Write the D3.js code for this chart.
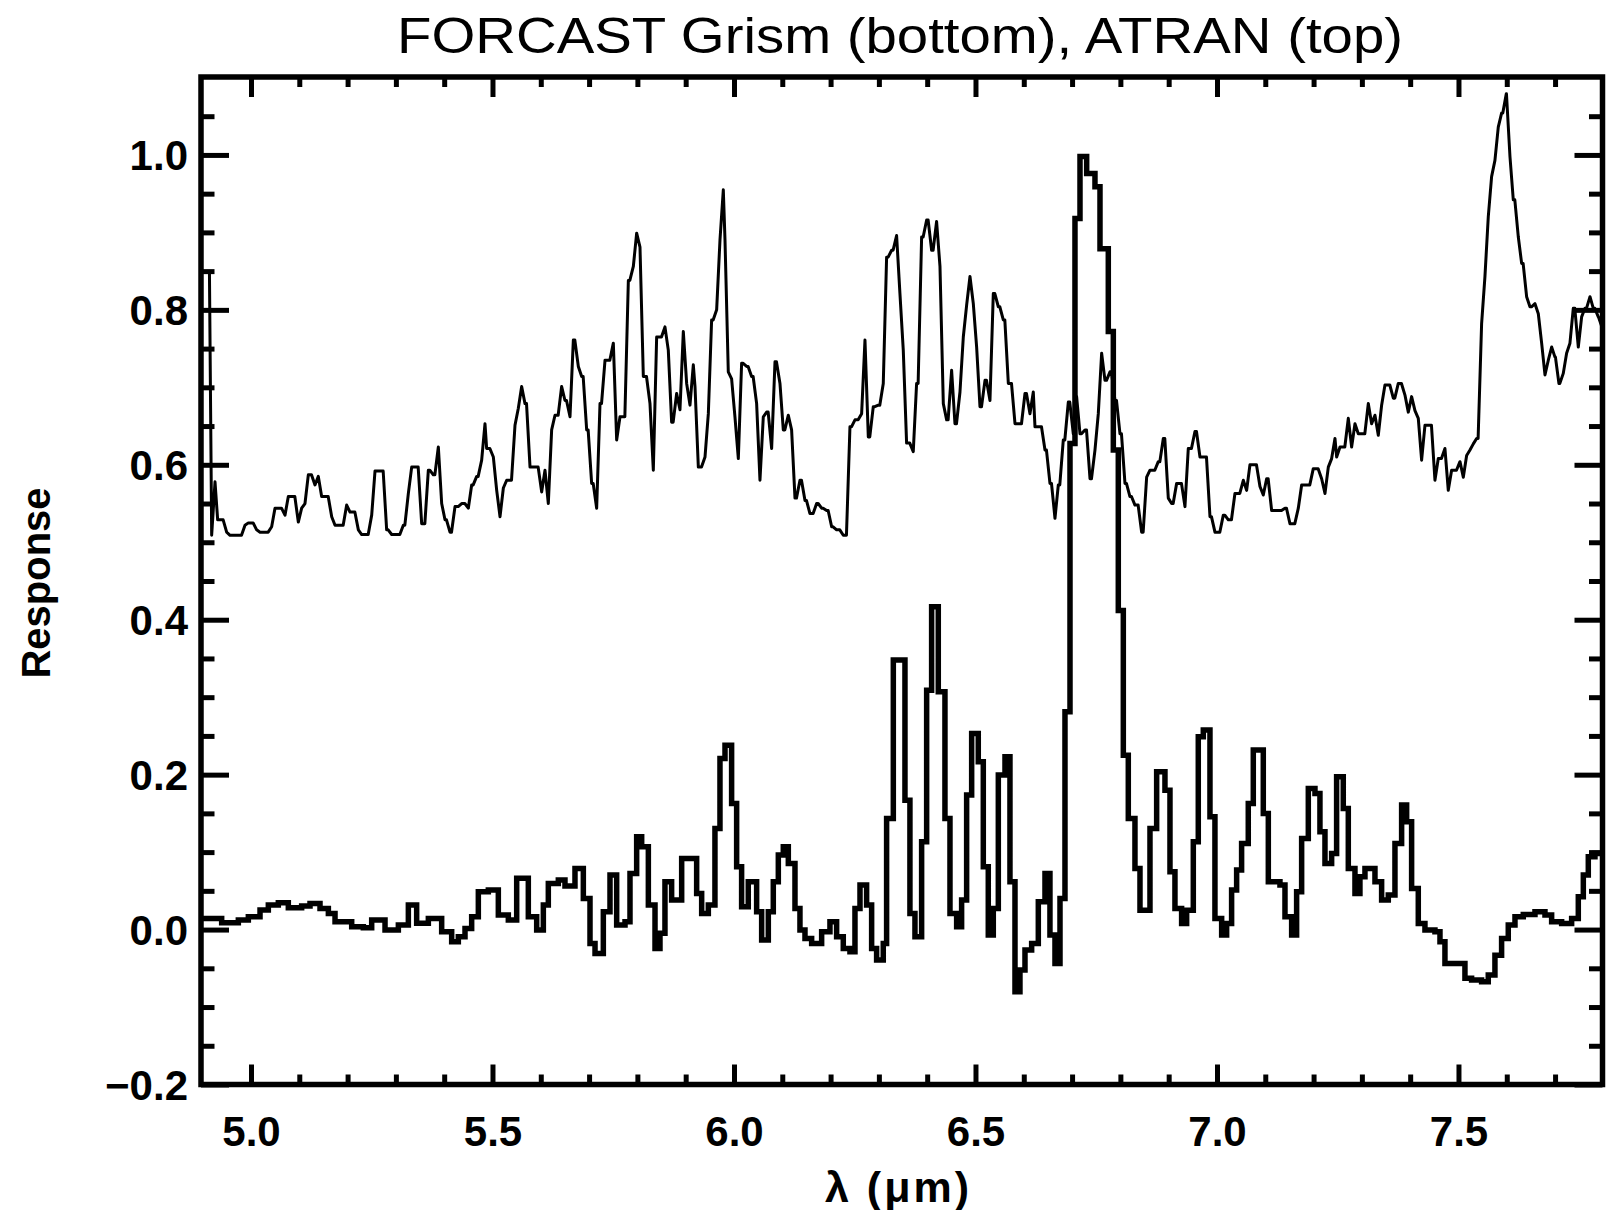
<!DOCTYPE html>
<html>
<head>
<meta charset="utf-8">
<script src="https://cdn.jsdelivr.net/npm/d3@7"></script>
<style>
body { margin: 0; background: #fff; }
svg text { font-family: "Liberation Sans", Arial, sans-serif; fill: #000; }
</style>
</head>
<body>
<div id="chart"></div>
<script>
// axis ranges and tick labels
const xDomain = [4.8965, 7.7982];
const yDomain = [-0.2, 1.1006];
const xMajorTicks = [5.0, 5.5, 6.0, 6.5, 7.0, 7.5];
const yMajorTicks = [-0.2, 0.0, 0.2, 0.4, 0.6, 0.8, 1.0];

// FORCAST grism response (bottom), step histogram: [wavelength, response]
const grismPoints = [
    [4.8979, 0.0144], [4.9393, 0.0088], [4.9738, 0.0123], [4.9945, 0.0166], [5.0187, 0.0252], [5.0359, 0.0316],
    [5.0566, 0.0346], [5.0773, 0.0282], [5.1049, 0.0303], [5.1222, 0.0338], [5.1429, 0.0273], [5.1602, 0.0209],
    [5.1740, 0.0101], [5.2085, 0.0037], [5.2326, 0.0024], [5.2499, 0.0123], [5.2775, -0.0006], [5.3051, 0.0058],
    [5.3258, 0.0316], [5.3430, 0.0080], [5.3672, 0.0144], [5.3948, -0.0028], [5.4155, -0.0157], [5.4293, -0.0092],
    [5.4431, 0.0015], [5.4569, 0.0166], [5.4707, 0.0488], [5.4914, 0.0510], [5.5121, 0.0187], [5.5328, 0.0123],
    [5.5501, 0.0661], [5.5742, 0.0166], [5.5915, -0.0006], [5.6053, 0.0316], [5.6156, 0.0596], [5.6363, 0.0639],
    [5.6501, 0.0562], [5.6708, 0.0790], [5.6881, 0.0402], [5.7019, -0.0179], [5.7123, -0.0308], [5.7295, 0.0230],
    [5.7433, 0.0704], [5.7571, 0.0058], [5.7744, 0.0101], [5.7847, 0.0725], [5.7985, 0.1198], [5.8089, 0.1069],
    [5.8227, 0.0316], [5.8365, -0.0243], [5.8468, -0.0049], [5.8571, 0.0617], [5.8709, 0.0381], [5.8917, 0.0918],
    [5.9227, 0.0467], [5.9331, 0.0208], [5.9469, 0.0316], [5.9606, 0.1306], [5.9710, 0.2209], [5.9814, 0.2381],
    [5.9951, 0.1628], [6.0055, 0.0811], [6.0158, 0.0295], [6.0296, 0.0617], [6.0469, 0.0230], [6.0573, -0.0136],
    [6.0711, 0.0230], [6.0814, 0.0617], [6.0918, 0.0962], [6.1021, 0.1069], [6.1125, 0.0854], [6.1263, 0.0273],
    [6.1366, -0.0007], [6.1470, -0.0114], [6.1608, -0.0179], [6.1815, -0.0028], [6.1987, 0.0101], [6.2125, -0.0093],
    [6.2263, -0.0243], [6.2401, -0.0286], [6.2505, 0.0273], [6.2609, 0.0574], [6.2746, 0.0316], [6.2850, -0.0243],
    [6.2953, -0.0394], [6.3091, -0.0179], [6.3160, 0.1435], [6.3299, 0.3479], [6.3540, 0.1671], [6.3643, 0.0208],
    [6.3747, -0.0093], [6.3885, 0.1134], [6.3989, 0.3091], [6.4092, 0.4167], [6.4230, 0.3070], [6.4368, 0.1435],
    [6.4472, 0.0208], [6.4610, 0.0036], [6.4713, 0.0381], [6.4817, 0.1736], [6.4921, 0.2532], [6.5058, 0.2166],
    [6.5162, 0.0811], [6.5265, -0.0071], [6.5369, 0.0273], [6.5473, 0.1994], [6.5611, 0.2231], [6.5714, 0.0617],
    [6.5818, -0.0803], [6.5921, -0.0523], [6.6025, -0.0265], [6.6163, -0.0179], [6.6301, 0.0359], [6.6439, 0.0725],
    [6.6542, -0.0071], [6.6646, -0.0437], [6.6750, 0.0402], [6.6853, 0.2812], [6.6957, 0.6275], [6.7060, 0.918],
    [6.7164, 0.998], [6.7302, 0.976], [6.7474, 0.959], [6.7578, 0.879], [6.7750, 0.772], [6.7854, 0.619],
    [6.7957, 0.412], [6.8061, 0.225], [6.8164, 0.1435], [6.8302, 0.079], [6.8406, 0.025], [6.8613, 0.1306],
    [6.8751, 0.2037], [6.8923, 0.1800], [6.9027, 0.0746], [6.9130, 0.0273], [6.9268, 0.0079], [6.9372, 0.0251],
    [6.9510, 0.1134], [6.9613, 0.2489], [6.9717, 0.2575], [6.9855, 0.1456], [6.9958, 0.0144], [7.0097, -0.0071],
    [7.0200, 0.0079], [7.0303, 0.0510], [7.0407, 0.0768], [7.0510, 0.1112], [7.0648, 0.1628], [7.0752, 0.2317],
    [7.0959, 0.1499], [7.1063, 0.0617], [7.1304, 0.0574], [7.1408, 0.0165], [7.1546, -0.0071], [7.1649, 0.0488],
    [7.1753, 0.1177], [7.1891, 0.1822], [7.2029, 0.1757], [7.2132, 0.1263], [7.2236, 0.0854], [7.2374, 0.0983],
    [7.2477, 0.1973], [7.2615, 0.1564], [7.2719, 0.0789], [7.2857, 0.0467], [7.2960, 0.0682], [7.3064, 0.0789],
    [7.3271, 0.0617], [7.3409, 0.0381], [7.3547, 0.0445], [7.3685, 0.1112], [7.3823, 0.1607], [7.3927, 0.1392],
    [7.4030, 0.0531], [7.4168, 0.0079], [7.4306, -0.0007], [7.4513, -0.0028], [7.4617, -0.0157], [7.4720, -0.0437],
    [7.5134, -0.0630], [7.5272, -0.0652], [7.5479, -0.0674], [7.5617, -0.0587], [7.5755, -0.0330], [7.5893, -0.0114],
    [7.6031, 0.0058], [7.6170, 0.0165], [7.6342, 0.0195], [7.6584, 0.0230], [7.6791, 0.0187], [7.6929, 0.0101],
    [7.7136, 0.0079], [7.7343, 0.0144], [7.7481, 0.0424], [7.7585, 0.0703], [7.7688, 0.0940], [7.7826, 0.0983],
    [7.7982, 0.0983]
];

// ATRAN atmospheric transmission (top): [wavelength, transmission]
const atranPoints = [
    [4.914, 0.847], [4.9186, 0.509], [4.9255, 0.578], [4.9310, 0.529], [4.9496, 0.513], [4.9566, 0.509],
    [4.9876, 0.522], [4.9945, 0.525], [5.0117, 0.516], [5.0187, 0.513], [5.0428, 0.520], [5.0497, 0.544],
    [5.0704, 0.535], [5.0773, 0.559], [5.0980, 0.526], [5.1049, 0.544], [5.1118, 0.550], [5.1187, 0.587],
    [5.1325, 0.574], [5.1394, 0.585], [5.1463, 0.559], [5.1671, 0.533], [5.1740, 0.522], [5.1981, 0.548],
    [5.2050, 0.539], [5.2223, 0.516], [5.2292, 0.510], [5.2499, 0.535], [5.2568, 0.592], [5.2809, 0.516],
    [5.2913, 0.510], [5.3154, 0.522], [5.3258, 0.563], [5.3327, 0.597], [5.3534, 0.524], [5.3672, 0.593],
    [5.3775, 0.587], [5.3879, 0.623], [5.3948, 0.550], [5.4017, 0.529], [5.4120, 0.513], [5.4224, 0.546],
    [5.4362, 0.550], [5.4500, 0.544], [5.4569, 0.574], [5.4673, 0.585], [5.4776, 0.606], [5.4845, 0.653],
    [5.4879, 0.621], [5.5018, 0.610], [5.5087, 0.567], [5.5156, 0.533], [5.5225, 0.570], [5.5294, 0.580],
    [5.5466, 0.651], [5.5535, 0.673], [5.5604, 0.701], [5.5673, 0.679], [5.5777, 0.597], [5.6018, 0.565],
    [5.6087, 0.593], [5.6156, 0.550], [5.6225, 0.645], [5.6294, 0.664], [5.6432, 0.701], [5.6501, 0.683],
    [5.6605, 0.662], [5.6674, 0.761], [5.6777, 0.727], [5.6847, 0.714], [5.6950, 0.645], [5.7053, 0.576],
    [5.7157, 0.544], [5.7226, 0.679], [5.7330, 0.735], [5.7502, 0.757], [5.7571, 0.632], [5.7640, 0.662],
    [5.7813, 0.838], [5.7916, 0.856], [5.7985, 0.899], [5.8054, 0.881], [5.8123, 0.714], [5.8261, 0.679],
    [5.8330, 0.593], [5.8399, 0.765], [5.8571, 0.778], [5.8640, 0.748], [5.8709, 0.655], [5.8813, 0.692],
    [5.8882, 0.671], [5.8951, 0.772], [5.9020, 0.705], [5.9089, 0.677], [5.9158, 0.729], [5.9193, 0.701],
    [5.9262, 0.597], [5.9400, 0.610], [5.9469, 0.666], [5.9537, 0.787], [5.9641, 0.800], [5.9710, 0.890],
    [5.9779, 0.955], [5.9814, 0.890], [5.9882, 0.720], [5.9951, 0.711], [6.0020, 0.662], [6.0090, 0.608],
    [6.0158, 0.731], [6.0262, 0.727], [6.0365, 0.714], [6.0469, 0.679], [6.0538, 0.580], [6.0607, 0.662],
    [6.0676, 0.668], [6.0780, 0.621], [6.0849, 0.733], [6.0952, 0.705], [6.1021, 0.645], [6.1125, 0.664],
    [6.1193, 0.645], [6.1263, 0.557], [6.1366, 0.580], [6.1470, 0.554], [6.1573, 0.537], [6.1711, 0.550],
    [6.1815, 0.544], [6.1918, 0.541], [6.2022, 0.520], [6.2125, 0.516], [6.2263, 0.509], [6.2401, 0.649],
    [6.2505, 0.658], [6.2643, 0.666], [6.2712, 0.761], [6.2781, 0.636], [6.2884, 0.675], [6.2988, 0.677],
    [6.3091, 0.705], [6.3160, 0.868], [6.3264, 0.877], [6.3367, 0.896], [6.3436, 0.821], [6.3505, 0.748],
    [6.3574, 0.628], [6.3712, 0.617], [6.3781, 0.705], [6.3885, 0.894], [6.3989, 0.916], [6.4092, 0.877],
    [6.4195, 0.914], [6.4265, 0.856], [6.4334, 0.679], [6.4403, 0.658], [6.4506, 0.722], [6.4575, 0.653],
    [6.4679, 0.694], [6.4748, 0.765], [6.4817, 0.806], [6.4886, 0.843], [6.4955, 0.808], [6.5024, 0.752],
    [6.5093, 0.675], [6.5197, 0.709], [6.5300, 0.683], [6.5369, 0.821], [6.5473, 0.804], [6.5576, 0.787],
    [6.5680, 0.705], [6.5818, 0.653], [6.6025, 0.692], [6.6128, 0.666], [6.6197, 0.694], [6.6232, 0.649],
    [6.6439, 0.619], [6.6542, 0.576], [6.6646, 0.531], [6.6715, 0.574], [6.6818, 0.632], [6.6922, 0.681],
    [6.7025, 0.640], [6.7094, 0.688], [6.7164, 0.640], [6.7267, 0.645], [6.7371, 0.582], [6.7474, 0.619],
    [6.7543, 0.666], [6.7612, 0.744], [6.7681, 0.709], [6.7785, 0.720], [6.7888, 0.683], [6.7992, 0.640],
    [6.8095, 0.576], [6.8198, 0.559], [6.8302, 0.548], [6.8440, 0.513], [6.8544, 0.584], [6.8613, 0.593],
    [6.8785, 0.604], [6.8889, 0.634], [6.8992, 0.557], [6.9061, 0.550], [6.9165, 0.576], [6.9337, 0.546],
    [6.9406, 0.621], [6.9544, 0.643], [6.9648, 0.610], [6.9855, 0.533], [6.9958, 0.513], [7.0131, 0.535],
    [7.0235, 0.529], [7.0372, 0.563], [7.0545, 0.580], [7.0614, 0.567], [7.0683, 0.600], [7.0890, 0.572],
    [7.0959, 0.561], [7.1028, 0.582], [7.1132, 0.541], [7.1408, 0.544], [7.1511, 0.524], [7.1684, 0.544],
    [7.1753, 0.574], [7.1994, 0.595], [7.2167, 0.582], [7.2236, 0.563], [7.2305, 0.597], [7.2374, 0.608],
    [7.2443, 0.634], [7.2478, 0.610], [7.2547, 0.623], [7.2719, 0.660], [7.2788, 0.623], [7.2857, 0.653],
    [7.2926, 0.640], [7.3133, 0.679], [7.3202, 0.653], [7.3271, 0.664], [7.3340, 0.638], [7.3409, 0.677],
    [7.3478, 0.703], [7.3651, 0.686], [7.3754, 0.705], [7.3892, 0.690], [7.3961, 0.668], [7.4030, 0.688],
    [7.4099, 0.670], [7.4168, 0.660], [7.4237, 0.606], [7.4306, 0.651], [7.4513, 0.580], [7.4582, 0.608],
    [7.4720, 0.621], [7.4789, 0.567], [7.4858, 0.593], [7.5031, 0.604], [7.5100, 0.584], [7.5169, 0.612],
    [7.5238, 0.619], [7.5307, 0.627], [7.5376, 0.634], [7.5479, 0.782], [7.5548, 0.843], [7.5617, 0.920],
    [7.5686, 0.972], [7.5755, 0.993], [7.5824, 1.036], [7.5893, 1.054], [7.5990, 1.079], [7.6066, 0.998],
    [7.6135, 0.942], [7.6239, 0.894], [7.6308, 0.860], [7.6411, 0.817], [7.6480, 0.804], [7.6584, 0.808],
    [7.6653, 0.795], [7.6722, 0.757], [7.6791, 0.716], [7.6860, 0.735], [7.6929, 0.752], [7.6998, 0.739],
    [7.7080, 0.705], [7.7170, 0.718], [7.7239, 0.744], [7.7308, 0.757], [7.7377, 0.802], [7.7481, 0.752],
    [7.7550, 0.791], [7.7619, 0.802], [7.7723, 0.817], [7.7791, 0.802], [7.7895, 0.791], [7.7970, 0.778]
];

const width = 1616, height = 1210;
const plot = { left: 201, right: 1602.5, top: 77, bottom: 1084.5 };

const svg = d3.select("#chart")
    .append("svg")
    .attr("width", width)
    .attr("height", height);

const x = d3.scaleLinear().domain(xDomain).range([plot.left, plot.right]);
const y = d3.scaleLinear().domain(yDomain).range([plot.bottom, plot.top]);

// minor ticks: 0.1 in x, 0.05 in y
const xMinorTicks = d3.range(49, 78).map(d => d / 10).filter(d => d > xDomain[0] + 0.01 && !xMajorTicks.some(m => Math.abs(m - d) < 1e-6));
const yMinorTicks = d3.range(-3, 22).map(d => d / 20).filter(d => !yMajorTicks.some(m => Math.abs(m - d) < 1e-6));

const fmt = d3.format(".1f");

function addAxis(axis, transform, bigTicks, smallTicks, bigLen, smallLen, labels) {
    const gMinor = svg.append("g")
        .attr("transform", transform)
        .call(axis.tickValues(smallTicks).tickSize(-smallLen).tickFormat(""));
    gMinor.select(".domain").remove();
    gMinor.selectAll(".tick line").attr("stroke-width", 5);

    const gMajor = svg.append("g")
        .attr("transform", transform)
        .call(axis.tickValues(bigTicks).tickSize(-bigLen).tickFormat(labels ? fmt : ""));
    gMajor.select(".domain").remove();
    gMajor.selectAll(".tick line").attr("stroke-width", 5);
    return gMajor;
}

const gBottom = addAxis(d3.axisBottom(x), `translate(0,${plot.bottom})`, xMajorTicks, xMinorTicks, 20, 10, true);
gBottom.selectAll(".tick text")
    .attr("y", 61.5).attr("dy", null)
    .style("font-size", "42px").style("font-weight", "bold");

addAxis(d3.axisTop(x), `translate(0,${plot.top})`, xMajorTicks, xMinorTicks, 20, 10, false);

const gLeft = addAxis(d3.axisLeft(y), `translate(${plot.left},0)`, yMajorTicks, yMinorTicks, 28, 13.5, true);
gLeft.selectAll(".tick text")
    .attr("x", -13).attr("y", 15).attr("dy", null)
    .style("font-size", "42px").style("font-weight", "bold");

addAxis(d3.axisRight(y), `translate(${plot.right},0)`, yMajorTicks, yMinorTicks, 28, 13.5, false);

// frame
svg.append("rect")
    .attr("x", plot.left).attr("y", plot.top)
    .attr("width", plot.right - plot.left).attr("height", plot.bottom - plot.top)
    .attr("fill", "none").attr("stroke", "#000").attr("stroke-width", 5.5)
    .attr("stroke-linejoin", "miter");

svg.append("clipPath").attr("id", "plot-clip")
    .append("rect")
    .attr("x", plot.left).attr("y", plot.top)
    .attr("width", plot.right - plot.left).attr("height", plot.bottom - plot.top);

const series = svg.append("g").attr("clip-path", "url(#plot-clip)");

// ATRAN: plateaus with short slanted transitions
const atranPx = [];
atranPoints.forEach((d, i) => {
    const px = x(d[0]), py = y(d[1]);
    atranPx.push([px, py]);
    const next = atranPoints[i + 1];
    if (next) atranPx.push([Math.max(px, x(next[0]) - 3.5), py]);
});
series.append("path")
    .attr("d", d3.line()(atranPx))
    .attr("fill", "none").attr("stroke", "#000")
    .attr("stroke-width", 3).attr("stroke-linejoin", "round");

// grism: histogram steps
const grismLine = d3.line()
    .x(d => x(d[0]))
    .y(d => y(d[1]))
    .curve(d3.curveStepAfter);
series.append("path")
    .datum(grismPoints)
    .attr("d", grismLine)
    .attr("fill", "none").attr("stroke", "#000")
    .attr("stroke-width", 5.5).attr("stroke-linejoin", "miter");

// titles
svg.append("text")
    .attr("x", 900).attr("y", 53)
    .attr("text-anchor", "middle")
    .attr("textLength", 1006).attr("lengthAdjust", "spacingAndGlyphs")
    .style("font-size", "50px")
    .text("FORCAST Grism (bottom), ATRAN (top)");

svg.append("text")
    .attr("transform", "translate(50,583) rotate(-90)")
    .attr("text-anchor", "middle")
    .style("font-size", "40px").style("font-weight", "bold")
    .text("Response");

svg.append("text")
    .attr("x", 897).attr("y", 1202)
    .attr("text-anchor", "middle")
    .attr("textLength", 144).attr("lengthAdjust", "spacing")
    .style("font-size", "43px").style("font-weight", "bold")
    .text("λ (μm)");
</script>
</body>
</html>
